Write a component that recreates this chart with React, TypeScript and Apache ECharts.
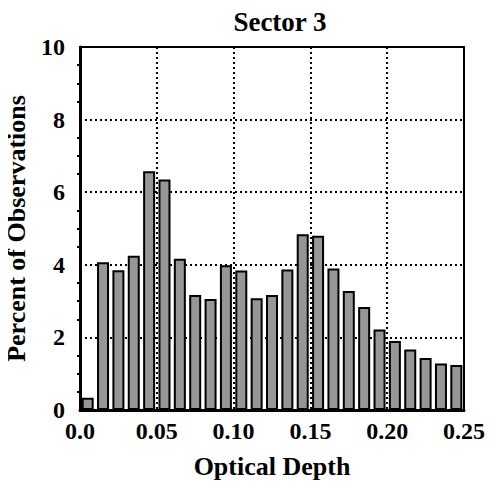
import React, { useEffect, useRef } from "react";
import * as echarts from "echarts";

const binCenters = [
  0.005, 0.015, 0.025, 0.035, 0.045, 0.055, 0.065, 0.075, 0.085, 0.095,
  0.105, 0.115, 0.125, 0.135, 0.145, 0.155, 0.165, 0.175, 0.185, 0.195,
  0.205, 0.215, 0.225, 0.235, 0.245,
];
const percents = [
  0.34, 4.07, 3.85, 4.25, 6.58, 6.35, 4.17, 3.17, 3.06, 3.99,
  3.84, 3.08, 3.17, 3.87, 4.84, 4.8, 3.9, 3.28, 2.84, 2.22,
  1.9, 1.67, 1.43, 1.28, 1.24,
];
const title = "Sector 3";
const xName = "Optical Depth";
const yName = "Percent of Observations";

const FONT = "Liberation Serif";

export default function App() {
  const ref = useRef<HTMLDivElement>(null);
  useEffect(() => {
    if (!ref.current) return;
    const chart = echarts.init(ref.current, null, { renderer: "svg" });
    chart.setOption({
      animation: false,
      backgroundColor: "#fff",
      title: {
        text: title,
        left: 275,
        top: 3,
        textAlign: "center",
        textStyle: { fontFamily: FONT, fontWeight: "bold", fontSize: 27, color: "#000" },
      },
      grid: {
        left: 80,
        right: 32,
        top: 47,
        bottom: 79,
        containLabel: false,
        outerBoundsMode: "none",
        show: true,
        borderColor: "#000",
        borderWidth: 2,
        backgroundColor: "transparent",
      },
      xAxis: {
        type: "value",
        min: 0,
        max: 0.25,
        interval: 0.05,
        name: xName,
        nameLocation: "middle",
        nameGap: 43,
        nameTextStyle: { fontFamily: FONT, fontWeight: "bold", fontSize: 26, color: "#000" },
        axisLine: { show: true, lineStyle: { color: "#000", width: 3 } },
        axisTick: { show: false },
        axisLabel: {
          fontFamily: FONT,
          fontWeight: "bold",
          fontSize: 24,
          color: "#000",
          margin: 9,
          formatter: (v: number) => (v === 0 ? "0.0" : v.toFixed(2)),
        },
        splitLine: { show: true, lineStyle: { color: "#000", type: [2, 3], width: 2 } },
      },
      yAxis: {
        type: "value",
        min: 0,
        max: 10,
        interval: 2,
        name: yName,
        nameLocation: "middle",
        nameGap: 51,
        nameTextStyle: { fontFamily: FONT, fontWeight: "bold", fontSize: 26, color: "#000" },
        axisLine: { show: true, lineStyle: { color: "#000", width: 3 } },
        axisTick: { show: false },
        minorTick: { show: true, splitNumber: 4, length: 3, lineStyle: { color: "#000", width: 2 } },
        axisLabel: {
          fontFamily: FONT,
          fontWeight: "bold",
          fontSize: 24,
          color: "#000",
          margin: 15,
        },
        splitLine: { show: true, lineStyle: { color: "#000", type: [2, 3], width: 2 } },
      },
      series: [
        {
          type: "bar",
          data: binCenters.map((c, i) => [c, percents[i]]),
          barWidth: 12,
          itemStyle: { color: "#969696", borderColor: "#000", borderWidth: 2 },
          z: 3,
        },
      ],
    });
    return () => chart.dispose();
  }, []);
  return (
    <div
      ref={ref}
      style={{ width: 496, height: 489, marginLeft: -8, marginTop: -8 }}
    />
  );
}
